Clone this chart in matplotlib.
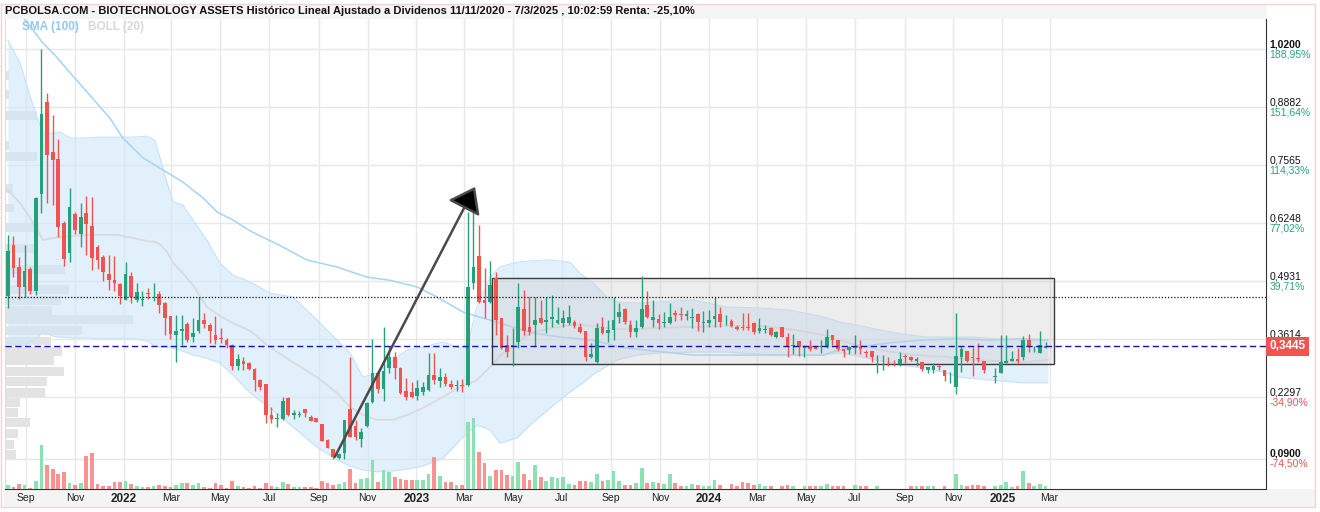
import numpy as np
import matplotlib
matplotlib.use("Agg")
import matplotlib.pyplot as plt
import matplotlib.dates as mdates
from matplotlib.patches import Rectangle
from matplotlib.transforms import blended_transform_factory
from datetime import datetime

plt.rcParams['font.family'] = ['Liberation Sans', 'DejaVu Sans']

W, H = 1320, 512
TITLE = ("PCBOLSA.COM - BIOTECHNOLOGY ASSETS Histórico Lineal Ajustado a Dividenos "
         "11/11/2020 - 7/3/2025 , 10:02:59 Renta: -25,10%")
FIRST_WEEK = datetime(2021, 8, 9)

# weekly candles, week number counted from FIRST_WEEK (no trading in week 175)
week_no = list(range(175)) + list(range(176, 186))
opens = [
    0.459, 0.575, 0.525, 0.480, 0.520, 0.471, 0.691, 0.900, 0.786, 0.770,
    0.625, 0.557, 0.645, 0.600, 0.648, 0.618, 0.570, 0.548, 0.509, 0.496,
    0.486, 0.450, 0.505, 0.450, 0.450, 0.466, 0.456, 0.464, 0.443, 0.414,
    0.371, 0.380, 0.396, 0.366, 0.380, 0.405, 0.393, 0.371, 0.364, 0.359,
    0.348, 0.300, 0.312, 0.307, 0.293, 0.268, 0.259, 0.189, 0.180, 0.180,
    0.228, 0.189, 0.189, 0.203, 0.184, 0.182, 0.169, 0.132, 0.112, 0.091,
    0.102, 0.203, 0.164, 0.134, 0.164, 0.218, 0.284, 0.248, 0.296, 0.321,
    0.296, 0.243, 0.241, 0.232, 0.241, 0.246, 0.280, 0.266, 0.275, 0.259,
    0.255, 0.257, 0.257, 0.489, 0.550, 0.450, 0.445, 0.500, 0.409, 0.348,
    0.343, 0.355, 0.430, 0.389, 0.393, 0.409, 0.400, 0.407, 0.398, 0.398,
    0.398, 0.400, 0.389, 0.380, 0.321, 0.309, 0.389, 0.375, 0.382, 0.412,
    0.430, 0.393, 0.378, 0.389, 0.439, 0.405, 0.407, 0.398, 0.398, 0.421,
    0.418, 0.414, 0.409, 0.418, 0.398, 0.398, 0.407, 0.418, 0.404, 0.402,
    0.389, 0.389, 0.389, 0.398, 0.380, 0.382, 0.387, 0.366, 0.389, 0.366,
    0.346, 0.357, 0.341, 0.346, 0.346, 0.343, 0.346, 0.371, 0.359, 0.339,
    0.337, 0.342, 0.343, 0.332, 0.334, 0.313, 0.313, 0.314, 0.314, 0.305,
    0.323, 0.321, 0.312, 0.309, 0.291, 0.291, 0.299, 0.291, 0.272, 0.253,
    0.321, 0.334, 0.319, 0.317, 0.312,
    0.275, 0.284, 0.307, 0.312, 0.316, 0.321, 0.359, 0.338, 0.330, 0.342,
]
closes = [
    0.561, 0.523, 0.480, 0.516, 0.471, 0.682, 0.872, 0.779, 0.768, 0.616,
    0.543, 0.661, 0.609, 0.639, 0.623, 0.545, 0.541, 0.514, 0.496, 0.489,
    0.459, 0.509, 0.457, 0.468, 0.452, 0.464, 0.458, 0.439, 0.409, 0.373,
    0.380, 0.384, 0.359, 0.375, 0.405, 0.396, 0.380, 0.359, 0.362, 0.348,
    0.300, 0.316, 0.305, 0.293, 0.268, 0.253, 0.189, 0.180, 0.182, 0.221,
    0.189, 0.194, 0.191, 0.194, 0.175, 0.173, 0.130, 0.114, 0.094, 0.100,
    0.178, 0.139, 0.139, 0.150, 0.216, 0.284, 0.248, 0.289, 0.321, 0.296,
    0.239, 0.230, 0.230, 0.250, 0.253, 0.280, 0.268, 0.275, 0.259, 0.253,
    0.257, 0.255, 0.480, 0.525, 0.445, 0.443, 0.484, 0.405, 0.341, 0.332,
    0.348, 0.434, 0.380, 0.378, 0.405, 0.398, 0.405, 0.412, 0.405, 0.409,
    0.412, 0.391, 0.378, 0.321, 0.327, 0.387, 0.375, 0.382, 0.405, 0.423,
    0.400, 0.378, 0.387, 0.430, 0.412, 0.412, 0.398, 0.400, 0.412, 0.416,
    0.416, 0.418, 0.412, 0.400, 0.400, 0.405, 0.414, 0.400, 0.405, 0.391,
    0.384, 0.387, 0.387, 0.378, 0.387, 0.384, 0.371, 0.378, 0.366, 0.343,
    0.348, 0.343, 0.343, 0.339, 0.339, 0.345, 0.366, 0.359, 0.339, 0.334,
    0.343, 0.343, 0.339, 0.330, 0.321, 0.314, 0.314, 0.313, 0.313, 0.316,
    0.321, 0.314, 0.316, 0.293, 0.298, 0.300, 0.298, 0.278, 0.273, 0.323,
    0.339, 0.312, 0.318, 0.316, 0.291,
    0.278, 0.309, 0.312, 0.316, 0.312, 0.359, 0.346, 0.339, 0.348, 0.3445,
]
highs = [
    0.598, 0.595, 0.548, 0.575, 0.525, 0.684, 1.020, 0.920, 0.870, 0.816,
    0.629, 0.704, 0.650, 0.670, 0.686, 0.684, 0.575, 0.552, 0.552, 0.550,
    0.489, 0.536, 0.514, 0.489, 0.471, 0.477, 0.489, 0.471, 0.445, 0.414,
    0.416, 0.416, 0.400, 0.409, 0.457, 0.421, 0.398, 0.414, 0.387, 0.364,
    0.350, 0.327, 0.321, 0.309, 0.296, 0.271, 0.259, 0.207, 0.194, 0.230,
    0.230, 0.200, 0.198, 0.203, 0.189, 0.182, 0.169, 0.134, 0.112, 0.102,
    0.178, 0.321, 0.178, 0.159, 0.218, 0.362, 0.287, 0.389, 0.346, 0.332,
    0.298, 0.273, 0.264, 0.268, 0.264, 0.330, 0.330, 0.296, 0.284, 0.268,
    0.268, 0.271, 0.650, 0.661, 0.620, 0.523, 0.539, 0.514, 0.409, 0.371,
    0.387, 0.489, 0.473, 0.457, 0.457, 0.450, 0.457, 0.461, 0.434, 0.427,
    0.439, 0.405, 0.398, 0.380, 0.353, 0.398, 0.412, 0.405, 0.457, 0.443,
    0.432, 0.405, 0.405, 0.505, 0.471, 0.450, 0.418, 0.423, 0.443, 0.427,
    0.434, 0.427, 0.432, 0.421, 0.425, 0.427, 0.457, 0.434, 0.416, 0.407,
    0.393, 0.421, 0.421, 0.400, 0.409, 0.393, 0.389, 0.380, 0.389, 0.375,
    0.373, 0.357, 0.348, 0.359, 0.346, 0.359, 0.384, 0.371, 0.359, 0.339,
    0.346, 0.371, 0.359, 0.337, 0.334, 0.325, 0.325, 0.321, 0.314, 0.332,
    0.327, 0.323, 0.321, 0.309, 0.298, 0.307, 0.302, 0.291, 0.287, 0.421,
    0.346, 0.334, 0.343, 0.353, 0.312,
    0.296, 0.371, 0.371, 0.334, 0.341, 0.368, 0.373, 0.346, 0.380, 0.355,
]
lows = [
    0.432, 0.502, 0.452, 0.457, 0.464, 0.461, 0.648, 0.670, 0.666, 0.593,
    0.527, 0.536, 0.600, 0.570, 0.552, 0.518, 0.520, 0.493, 0.473, 0.471,
    0.441, 0.449, 0.443, 0.446, 0.437, 0.452, 0.448, 0.421, 0.371, 0.362,
    0.309, 0.348, 0.355, 0.355, 0.375, 0.387, 0.353, 0.350, 0.353, 0.341,
    0.291, 0.291, 0.291, 0.291, 0.243, 0.246, 0.171, 0.171, 0.162, 0.178,
    0.187, 0.180, 0.184, 0.184, 0.175, 0.173, 0.130, 0.114, 0.089, 0.089,
    0.089, 0.139, 0.132, 0.116, 0.162, 0.216, 0.239, 0.221, 0.284, 0.271,
    0.237, 0.223, 0.228, 0.223, 0.234, 0.243, 0.259, 0.253, 0.255, 0.248,
    0.243, 0.241, 0.255, 0.475, 0.443, 0.409, 0.443, 0.371, 0.339, 0.321,
    0.300, 0.341, 0.371, 0.371, 0.346, 0.396, 0.375, 0.389, 0.396, 0.389,
    0.393, 0.387, 0.375, 0.312, 0.318, 0.307, 0.373, 0.355, 0.359, 0.398,
    0.396, 0.366, 0.366, 0.387, 0.409, 0.389, 0.384, 0.389, 0.396, 0.402,
    0.405, 0.405, 0.387, 0.380, 0.378, 0.389, 0.389, 0.389, 0.393, 0.389,
    0.382, 0.382, 0.382, 0.373, 0.375, 0.375, 0.368, 0.364, 0.366, 0.321,
    0.327, 0.323, 0.321, 0.334, 0.339, 0.330, 0.341, 0.348, 0.334, 0.321,
    0.327, 0.327, 0.327, 0.321, 0.309, 0.284, 0.291, 0.300, 0.300, 0.300,
    0.307, 0.312, 0.300, 0.289, 0.284, 0.284, 0.291, 0.266, 0.262, 0.237,
    0.287, 0.309, 0.278, 0.309, 0.284,
    0.262, 0.284, 0.307, 0.312, 0.307, 0.314, 0.332, 0.332, 0.330, 0.340,
]
# weekly volume, thousands of shares
volume = [
    37, 20, 50, 40, 10, 80, 440, 240, 200, 150,
    170, 60, 40, 60, 330, 360, 50, 30, 30, 70,
    70, 80, 50, 30, 20, 20, 30, 40, 30, 20,
    40, 60, 60, 40, 60, 20, 10, 60, 40, 10,
    80, 30, 20, 10, 30, 10, 60, 30, 20, 70,
    50, 20, 20, 20, 20, 10, 80, 60, 40, 50,
    70, 200, 60, 100, 110, 290, 70, 190, 170, 120,
    100, 90, 90, 90, 90, 150, 320, 130, 70, 70,
    40, 40, 670, 710, 370, 260, 130, 190, 190, 140,
    130, 270, 150, 90, 240, 120, 80, 120, 110, 120,
    50, 40, 80, 80, 70, 150, 80, 90, 180, 80,
    40, 40, 60, 210, 60, 70, 60, 50, 150, 60,
    30, 30, 50, 40, 30, 30, 90, 40, 0, 50,
    30, 70, 60, 40, 50, 30, 30, 0, 30, 40,
    30, 0, 30, 30, 30, 30, 50, 30, 30, 30,
    0, 40, 30, 30, 0, 30, 0, 0, 0, 0,
    0, 30, 30, 30, 30, 30, 0, 30, 0, 150,
    40, 30, 40, 40, 30,
    30, 40, 70, 20, 30, 180, 60, 30, 50, 30,
]

# Bollinger (20) bands and SMA (100) (x in weeks)
band_wk = [0.0, 2.2, 4.0, 5.2, 6.3, 8.1, 9.3, 11.1, 14.1, 16.4,
           19.5, 22.3, 24.8, 26.2, 27.1, 28.4, 29.5, 31.2, 33.0, 35.5,
           37.8, 40.1, 43.2, 46.7, 50.8, 55.1, 58.7, 61.0, 63.3, 65.8,
           68.7, 71.2, 74.0, 77.6, 80.6, 81.9, 83.6, 86.0, 87.7, 90.8,
           93.1, 96.7, 100.2, 102.0, 104.3, 106.8, 108.6, 112.2, 116.3, 122.1,
           128.2, 134.1, 139.4, 145.3, 148.3, 151.4, 155.5, 160.3, 163.9, 167.4,
           169.2, 172.1, 175.6, 181.0, 185.4]
band_upper = [1.040, 0.988, 0.911, 0.866, 0.829, 0.829, 0.832, 0.818, 0.818, 0.820,
              0.820, 0.820, 0.822, 0.813, 0.775, 0.716, 0.673, 0.666, 0.632, 0.586,
              0.534, 0.507, 0.491, 0.466, 0.457, 0.405, 0.359, 0.330, 0.275, 0.284,
              0.314, 0.337, 0.343, 0.355, 0.341, 0.343, 0.434, 0.502, 0.525, 0.536,
              0.539, 0.541, 0.536, 0.511, 0.489, 0.457, 0.446, 0.443, 0.446, 0.450,
              0.434, 0.432, 0.427, 0.412, 0.400, 0.393, 0.382, 0.371, 0.366, 0.366,
              0.366, 0.366, 0.362, 0.359, 0.359]
band_mid = [0.700, 0.670, 0.636, 0.609, 0.586, 0.591, 0.593, 0.595, 0.598, 0.598,
            0.598, 0.591, 0.584, 0.582, 0.577, 0.559, 0.534, 0.511, 0.484, 0.434,
            0.414, 0.398, 0.380, 0.343, 0.309, 0.275, 0.239, 0.207, 0.189, 0.178,
            0.178, 0.189, 0.205, 0.230, 0.253, 0.259, 0.268, 0.298, 0.323, 0.352,
            0.375, 0.386, 0.393, 0.393, 0.391, 0.387, 0.384, 0.384, 0.387, 0.389,
            0.391, 0.391, 0.384, 0.371, 0.359, 0.348, 0.337, 0.327, 0.323, 0.321,
            0.318, 0.314, 0.312, 0.309, 0.314]
band_lower = [0.352, 0.343, 0.355, 0.364, 0.377, 0.368, 0.366, 0.364, 0.364, 0.362,
              0.362, 0.362, 0.357, 0.346, 0.343, 0.343, 0.341, 0.334, 0.325, 0.318,
              0.307, 0.280, 0.239, 0.205, 0.162, 0.116, 0.087, 0.073, 0.064, 0.060,
              0.062, 0.066, 0.073, 0.091, 0.132, 0.148, 0.166, 0.155, 0.125, 0.137,
              0.166, 0.205, 0.241, 0.257, 0.280, 0.300, 0.314, 0.325, 0.330, 0.332,
              0.332, 0.327, 0.325, 0.325, 0.330, 0.323, 0.312, 0.300, 0.296, 0.284,
              0.275, 0.272, 0.268, 0.262, 0.262]
sma_wk = [1.8, 3.1, 4.5, 6.1, 8.4, 11.1, 14.3, 18.2, 20.5, 24.1,
          27.7, 31.2, 34.8, 37.3, 40.1, 43.2, 49.1, 53.3, 58.7, 64.0,
          68.1, 72.9, 76.5, 81.1, 84.7, 87.7, 93.6, 98.4, 104.3, 109.1,
          113.2, 122.1, 134.1, 145.3, 148.3, 151.4, 157.3, 163.1, 169.2, 175.1,
          181.0, 185.4]
sma_val = [1.104, 1.086, 1.063, 1.036, 1.006, 0.966, 0.920, 0.863, 0.818, 0.773,
           0.745, 0.718, 0.682, 0.650, 0.632, 0.607, 0.570, 0.541, 0.525, 0.502,
           0.495, 0.480, 0.457, 0.423, 0.409, 0.398, 0.375, 0.366, 0.359, 0.343,
           0.337, 0.325, 0.325, 0.325, 0.337, 0.343, 0.353, 0.359, 0.362, 0.359,
           0.362, 0.359]

# volume by price (left side)
profile_price = [0.100, 0.123, 0.148, 0.171, 0.194, 0.218, 0.241, 0.264, 0.287, 0.312,
                 0.334, 0.357, 0.380, 0.405, 0.427, 0.450, 0.473, 0.520, 0.566, 0.614,
                 0.659, 0.704, 0.775, 0.800, 0.868, 0.916, 0.961]
profile_vol = [12, 10, 14, 26, 14, 16, 41, 43, 61, 50,
               59, 47, 79, 131, 48, 58, 66, 62, 31, 35,
               10, 9, 33, 5, 33, 5, 5]

price_ticks = [1.0200, 0.8882, 0.7565, 0.6248, 0.4931, 0.3614, 0.2297, 0.0900]
price_labels = ['1,0200', '0,8882', '0,7565', '0,6248', '0,4931', '0,3614', '0,2297', '0,0900']
# percent under 0,3614 is hidden behind the last-price box in the original
pct_labels = ['188,95%', '151,64%', '114,33%', '77,02%', '39,71%', '', '-34,90%', '-74,50%']
month_ticks = ['2021-09-01', '2021-11-01', '2022-01-01', '2022-03-01', '2022-05-01',
               '2022-07-01', '2022-09-01', '2022-11-01', '2023-01-01', '2023-03-01',
               '2023-05-01', '2023-07-01', '2023-09-01', '2023-11-01', '2024-01-01',
               '2024-03-01', '2024-05-01', '2024-07-01', '2024-09-01', '2024-11-01',
               '2025-01-01', '2025-03-01']
month_labels = ['Sep', 'Nov', '2022', 'Mar', 'May', 'Jul', 'Sep', 'Nov', '2023', 'Mar',
                'May', 'Jul', 'Sep', 'Nov', '2024', 'Mar', 'May', 'Jul', 'Sep', 'Nov',
                '2025', 'Mar']

last_price = 0.3445
resistance = 0.457
range_wk = (86.3, 186.5)
range_price = (0.305, 0.500)
arrow_from = (58.3, 0.094)
arrow_to = (83.3, 0.707)

assert len(opens) == len(closes) == len(highs) == len(lows) == len(volume) == len(week_no)

GREEN, RED = '#27a07a', '#f05350'
VGREEN, VRED = '#86e0ad', '#f88d8b'

t0 = mdates.date2num(FIRST_WEEK)
def wk(w):
    return t0 + 7 * np.asarray(w, dtype=float)

fig = plt.figure(figsize=(W / 100, H / 100), dpi=100)
# title bar, date strip and thin outer frame (behind the axes)
fig.patches.append(Rectangle((4 / W, 1 - 19 / H), 1263 / W, 14 / H, transform=fig.transFigure,
                             fc='#f5f5f5', ec='none', zorder=-2))
fig.patches.append(Rectangle((4 / W, 1 - 507 / H), 1311 / W, 18 / H, transform=fig.transFigure,
                             fc='#f4f4f4', ec='none', zorder=-2))
fig.patches.append(Rectangle((1 / W, 1 - 507 / H), 1314 / W, 503 / H, transform=fig.transFigure,
                             fc='none', ec='#f0d4d4', lw=1, zorder=-1))
fig.text(5 / W, 1 - 11.5 / H, TITLE, fontsize=8, weight='bold', va='center', color='#111')

L, R, T, B = 4.5, 1266, 19, 489
ax = fig.add_axes([L / W, 1 - B / H, (R - L) / W, (B - T) / H])
ax.set_facecolor('none')
axv = ax.twinx()   # volume panel overlaid at the bottom

ax.set_xlim(wk(-0.59), wk(224.3))
ax.set_ylim(0.0209, 1.0882)
ax.set_yticks(price_ticks)
ax.tick_params(axis='y', left=False, labelleft=False, right=False, labelright=False)
xt = mdates.date2num(np.array(month_ticks, dtype='datetime64[D]'))
ax.set_xticks(xt)
ax.set_xticklabels(month_labels, fontsize=7.5, color='#222')
for lab in ax.get_xticklabels():
    if lab.get_text().isdigit():
        lab.set_fontweight('bold')
        lab.set_fontsize(8.5)
ax.tick_params(axis='x', length=0, pad=3)
ax.grid(True, color='#e8e8e8', lw=1)
ax.set_axisbelow(True)
ax.spines['top'].set_visible(False)
ax.spines['left'].set_color('#dddddd')
ax.spines['right'].set_color('#333333')
ax.spines['bottom'].set_color('#333333')

# volume by price
trans = blended_transform_factory(ax.transAxes, ax.transData)
pmax = max(profile_vol)
for p, v in zip(profile_price, profile_vol):
    ax.add_patch(Rectangle((0, p - 0.0102), 0.102 * v / pmax, 0.0204, transform=trans,
                           fc='#e3e3e3', ec='none', zorder=1.5))

# Bollinger band and moving averages
bx = wk(band_wk)
ax.fill_between(bx, band_lower, band_upper, color='#cfe7fa', alpha=0.6, lw=0, zorder=2)
ax.plot(bx, band_upper, color='#c6e3f8', lw=0.8, zorder=2.1)
ax.plot(bx, band_lower, color='#c6e3f8', lw=0.8, zorder=2.1)
ax.plot(bx, band_mid, color='#dadada', lw=1.3, zorder=2.2)
ax.plot(wk(sma_wk), sma_val, color='#a6d4f5', lw=1.1, zorder=2.3)

# trading range box
ax.add_patch(Rectangle((wk(range_wk[0]), range_price[0]), wk(range_wk[1]) - wk(range_wk[0]),
                       range_price[1] - range_price[0], fc=(0.8, 0.8, 0.8, 0.35),
                       ec='#3a3a3a', lw=1, zorder=3))

# candles
x = wk(week_no)
o, c, h, l = map(np.array, (opens, closes, highs, lows))
up = c >= o
ax.vlines(x, l, h, colors=np.where(up, GREEN, RED), lw=1, zorder=4)
ax.bar(x, np.maximum(np.abs(c - o), 0.0016), bottom=np.minimum(o, c), width=4.6,
       color=np.where(up, GREEN, RED), lw=0, zorder=5)

# reference lines
ax.axhline(resistance, color='#111111', ls=(0, (1, 1.5)), lw=0.9, zorder=6)
ax.axhline(last_price, color='#1414b4', ls=(0, (4.5, 2.5)), lw=1, zorder=6)

# hand-drawn arrow
ax.annotate('', xy=(wk(arrow_to[0]), arrow_to[1]), xytext=(wk(arrow_from[0]), arrow_from[1]),
            arrowprops=dict(arrowstyle='-|>,head_length=1.5,head_width=1.1', mutation_scale=10,
                            lw=1.8, ec='#4a4a4a', fc='black', shrinkA=0, shrinkB=0),
            zorder=7)

# right-hand price / percent labels
for v, pl, pc in zip(price_ticks, price_labels, pct_labels):
    bold = pl in ('1,0200', '0,0900')
    ax.annotate(pl, xy=(1, v), xycoords=('axes fraction', 'data'), xytext=(2.5, 3.6),
                textcoords='offset points', va='center', ha='left', fontsize=7.5,
                color='#111', weight='bold' if bold else 'normal', annotation_clip=False)
    if pc:
        ax.annotate(pc, xy=(1, v), xycoords=('axes fraction', 'data'), xytext=(2.5, -3.8),
                    textcoords='offset points', va='center', ha='left', fontsize=7.5,
                    color=RED if pc.startswith('-') else '#2aa57a', annotation_clip=False)
ax.annotate('0,3445', xy=(1, last_price), xycoords=('axes fraction', 'data'),
            xytext=(2.6, 0), textcoords='offset points', va='center', ha='left', fontsize=8.5,
            color='white', weight='bold', annotation_clip=False, zorder=10,
            bbox=dict(boxstyle='square,pad=0.28', fc='#f05350', ec='none'))

# volume bars
axv.set_ylim(0, 4700)
axv.bar(x, volume, width=4.6, color=np.where(up, VGREEN, VRED), lw=0, alpha=0.95)
axv.set_axis_off()
ax.tick_params(axis='y', left=False, labelleft=False, right=False, labelright=False)

# indicator legend
fig.text(22 / W, 1 - 27 / H, 'SMA (100)', fontsize=8.5, weight='bold', color='#92c9f0', va='center')
fig.text(88 / W, 1 - 27 / H, 'BOLL (20)', fontsize=8.5, weight='bold', color='#d8d8d8', va='center')

fig.savefig('out.png', dpi=100)
